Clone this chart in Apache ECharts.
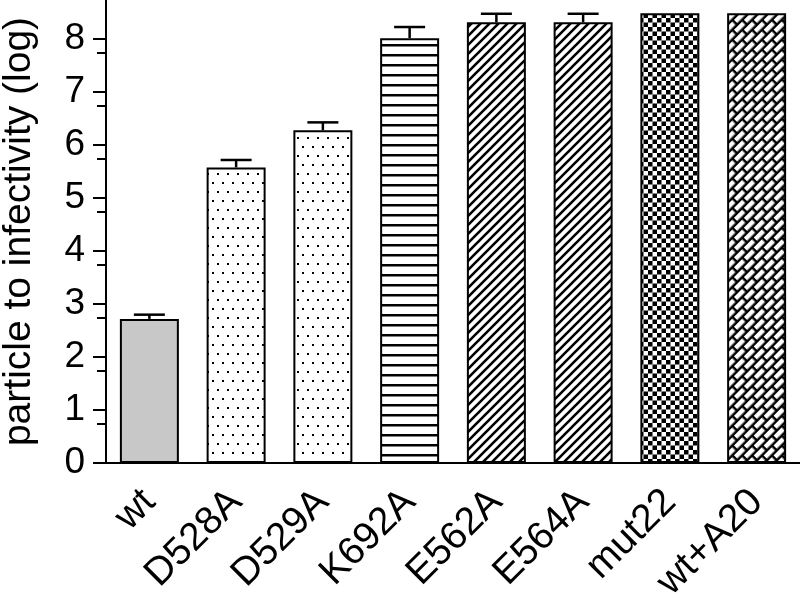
<!DOCTYPE html>
<html>
<head>
<meta charset="utf-8">
<script src="https://cdn.jsdelivr.net/npm/echarts@6/dist/echarts.min.js"></script>
<style>
html,body{margin:0;padding:0;background:#fff;}
#chart{width:800px;height:596px;}
</style>
</head>
<body>
<div id="chart"></div>
<script>
var categories = ['wt', 'D528A', 'D529A', 'K692A', 'E562A', 'E564A', 'mut22', 'wt+A20'];
var means = [2.72, 5.58, 6.28, 8.02, 8.32, 8.32, 8.49, 8.49];
var errors = [0.08, 0.14, 0.15, 0.21, 0.16, 0.16, 0, 0];
var majorTicks = [0, 1, 2, 3, 4, 5, 6, 7, 8];
var minorTicks = [0.75, 1.75, 2.75, 3.75, 4.75, 5.75, 6.75, 7.75];
var patternNames = ['grey', 'dots', 'dots', 'hlines', 'diag', 'diag', 'checker', 'brick'];

function tile(w, h, draw) {
  var c = document.createElement('canvas');
  c.width = w; c.height = h;
  var ctx = c.getContext('2d');
  ctx.fillStyle = '#fff';
  ctx.fillRect(0, 0, w, h);
  ctx.fillStyle = '#000';
  ctx.strokeStyle = '#000';
  draw(ctx);
  return c;
}
function makeFill(name) {
  if (name === 'grey') return '#c8c8c8';
  if (name === 'dots') {
    return {image: tile(10, 18, function (ctx) {
      ctx.fillRect(2, 2, 2, 2);
      ctx.fillRect(7, 11, 2, 2);
    }), repeat: 'repeat'};
  }
  if (name === 'hlines') {
    return {image: tile(10, 10, function (ctx) {
      ctx.fillRect(0, 4, 10, 2.5);
    }), repeat: 'repeat'};
  }
  if (name === 'diag') {
    return {image: tile(9, 9, function (ctx) {
      ctx.lineWidth = 2.6;
      ctx.beginPath();
      ctx.moveTo(-2, 11); ctx.lineTo(11, -2);
      ctx.moveTo(-11, 11); ctx.lineTo(2, -2);
      ctx.moveTo(7, 11); ctx.lineTo(20, -2);
      ctx.stroke();
    }), repeat: 'repeat'};
  }
  if (name === 'checker') {
    return {image: tile(9, 9, function (ctx) {
      ctx.fillRect(0, 0, 4.5, 4.5);
      ctx.fillRect(4.5, 4.5, 4.5, 4.5);
    }), repeat: 'repeat'};
  }
  if (name === 'brick') {
    return {image: tile(14, 14, function (ctx) {
      ctx.fillRect(0, 0, 14, 14);
      ctx.fillStyle = '#fff';
      ctx.fillRect(1, 1, 11.5, 4.5);
      ctx.fillRect(8, 8, 11.5, 4.5);
      ctx.fillRect(-6, 8, 11.5, 4.5);
    }), repeat: 'repeat', rotation: -Math.PI / 4};
  }
}

var barData = means.map(function (v, i) {
  return {value: v, itemStyle: {color: makeFill(patternNames[i])}};
});
var errData = means.map(function (v, i) { return [i, v, errors[i]]; });

var chart = echarts.init(document.getElementById('chart'), null, {renderer: 'canvas'});
var fontFam = 'Arial';
var fs = 37;
var fsBig = 39;
chart.setOption({
  animation: false,
  backgroundColor: '#fff',
  textStyle: {fontFamily: fontFam, fontSize: fs},
  grid: {left: 106, right: 0, top: 0, bottom: 133, containLabel: false, outerBoundsMode: 'none'},
  xAxis: {
    type: 'category',
    data: categories,
    axisLine: {lineStyle: {color: '#000', width: 2}},
    axisTick: {alignWithLabel: true, length: 14, lineStyle: {color: '#000', width: 2}},
    axisLabel: {rotate: 45, margin: 33, padding: [14, 0, 0, 0], color: '#000', fontSize: fsBig, fontFamily: fontFam, interval: 0}
  },
  yAxis: [{
    type: 'value',
    min: 0,
    max: 8.74,
    interval: 1,
    name: 'particle to infectivity (log)',
    nameLocation: 'middle',
    nameGap: 67,
    nameTextStyle: {color: '#000', fontSize: fsBig, fontFamily: fontFam},
    axisLine: {show: true, lineStyle: {color: '#000', width: 2}},
    axisTick: {show: true, length: 13, customValues: majorTicks, lineStyle: {color: '#000', width: 2}},
    axisLabel: {margin: 21, color: '#000', fontSize: fs, fontFamily: fontFam, customValues: majorTicks},
    splitLine: {show: false}
  }, {
    type: 'value',
    min: 0,
    max: 8.74,
    position: 'left',
    axisLine: {show: false},
    axisTick: {show: true, length: 9, customValues: minorTicks, lineStyle: {color: '#000', width: 2}},
    axisLabel: {show: false},
    splitLine: {show: false}
  }],
  series: [{
    type: 'bar',
    data: barData,
    barCategoryGap: '32%',
    itemStyle: {borderColor: '#000', borderWidth: 2}
  }, {
    type: 'custom',
    data: errData,
    z: 5,
    renderItem: function (params, api) {
      var i = api.value(0), m = api.value(1), e = api.value(2);
      if (!e) return {type: 'group', children: []};
      var p0 = api.coord([i, m]);
      var p1 = api.coord([i, m + e]);
      var half = 15.5;
      var st = {stroke: '#000', lineWidth: 2.5};
      return {type: 'group', children: [
        {type: 'line', shape: {x1: p0[0], y1: p0[1], x2: p1[0], y2: p1[1]}, style: st},
        {type: 'line', shape: {x1: p1[0] - half, y1: p1[1], x2: p1[0] + half, y2: p1[1]}, style: st}
      ]};
    }
  }]
});
</script>
</body>
</html>
